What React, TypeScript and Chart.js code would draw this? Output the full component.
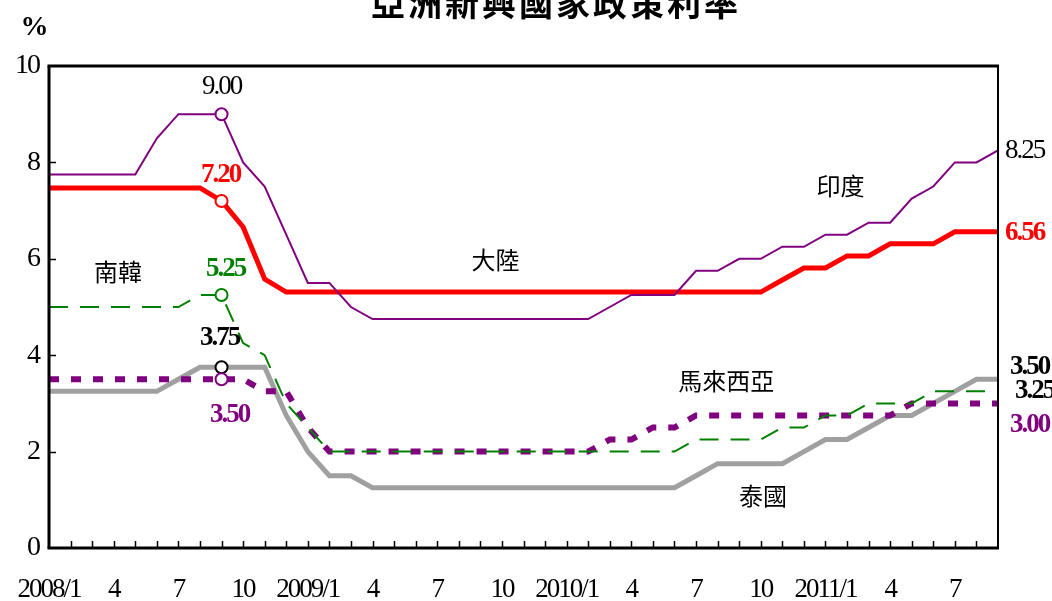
import React, { useEffect, useRef } from 'react';
import { Chart, registerables } from 'chart.js';

Chart.register(...registerables);

// Months 2008/1 .. 2011/9 (tick labels shown every 3 months)
const xTickLabels: string[] = [
  '2008/1', '', '', '4', '', '', '7', '', '', '10', '', '',
  '2009/1', '', '', '4', '', '', '7', '', '', '10', '', '',
  '2010/1', '', '', '4', '', '', '7', '', '', '10', '', '',
  '2011/1', '', '', '4', '', '', '7', '', '',
];

const yTicks: number[] = [0, 2, 4, 6, 8, 10];

// 印度
const india: number[] = [
  7.75, 7.75, 7.75, 7.75, 7.75, 8.5, 9.0, 9.0, 9.0, 8.0, 7.5, 6.5,
  5.5, 5.5, 5.0, 4.75, 4.75, 4.75, 4.75, 4.75, 4.75, 4.75, 4.75, 4.75,
  4.75, 4.75, 5.0, 5.25, 5.25, 5.25, 5.75, 5.75, 6.0, 6.0, 6.25, 6.25,
  6.5, 6.5, 6.75, 6.75, 7.25, 7.5, 8.0, 8.0, 8.25,
];

// 大陸
const china: number[] = [
  7.47, 7.47, 7.47, 7.47, 7.47, 7.47, 7.47, 7.47, 7.2, 6.66, 5.58, 5.31,
  5.31, 5.31, 5.31, 5.31, 5.31, 5.31, 5.31, 5.31, 5.31, 5.31, 5.31, 5.31,
  5.31, 5.31, 5.31, 5.31, 5.31, 5.31, 5.31, 5.31, 5.31, 5.31, 5.56, 5.81,
  5.81, 6.06, 6.06, 6.31, 6.31, 6.31, 6.56, 6.56, 6.56,
];

// 南韓
const korea: number[] = [
  5.0, 5.0, 5.0, 5.0, 5.0, 5.0, 5.0, 5.25, 5.25, 4.25, 4.0, 3.0,
  2.5, 2.0, 2.0, 2.0, 2.0, 2.0, 2.0, 2.0, 2.0, 2.0, 2.0, 2.0,
  2.0, 2.0, 2.0, 2.0, 2.0, 2.0, 2.25, 2.25, 2.25, 2.25, 2.5, 2.5,
  2.75, 2.75, 3.0, 3.0, 3.0, 3.25, 3.25, 3.25, 3.25,
];

// 泰國
const thailand: number[] = [
  3.25, 3.25, 3.25, 3.25, 3.25, 3.25, 3.5, 3.75, 3.75, 3.75, 3.75, 2.75,
  2.0, 1.5, 1.5, 1.25, 1.25, 1.25, 1.25, 1.25, 1.25, 1.25, 1.25, 1.25,
  1.25, 1.25, 1.25, 1.25, 1.25, 1.25, 1.5, 1.75, 1.75, 1.75, 1.75, 2.0,
  2.25, 2.25, 2.5, 2.75, 2.75, 3.0, 3.25, 3.5, 3.5,
];

// 馬來西亞
const malaysia: number[] = [
  3.5, 3.5, 3.5, 3.5, 3.5, 3.5, 3.5, 3.5, 3.5, 3.5, 3.25, 3.25,
  2.5, 2.0, 2.0, 2.0, 2.0, 2.0, 2.0, 2.0, 2.0, 2.0, 2.0, 2.0,
  2.0, 2.0, 2.25, 2.25, 2.5, 2.5, 2.75, 2.75, 2.75, 2.75, 2.75, 2.75,
  2.75, 2.75, 2.75, 2.75, 3.0, 3.0, 3.0, 3.0, 3.0,
];

const MARK_INDEX = 8; // 2008/9
const LAST_INDEX = 44; // 2011/9

const TITLE = '亞洲新興國家政策利率';

const SERIF = '"Liberation Serif", "Times New Roman", serif';
const CJK = '"Noto Sans CJK TC", "Noto Sans CJK SC", sans-serif';

type ValueLabel = { text: string; data: number[]; idx: number; dx: number; dy: number; color: string; bold: boolean; align: CanvasTextAlign };

const valueLabels: ValueLabel[] = [
  { text: '9.00', data: india, idx: MARK_INDEX, dx: 0, dy: -27, color: '#000000', bold: false, align: 'center' },
  { text: '7.20', data: china, idx: MARK_INDEX, dx: -1, dy: -26, color: '#FF0000', bold: true, align: 'center' },
  { text: '5.25', data: korea, idx: MARK_INDEX, dx: 4, dy: -26, color: '#008000', bold: true, align: 'center' },
  { text: '3.75', data: thailand, idx: MARK_INDEX, dx: -2, dy: -29, color: '#000000', bold: true, align: 'center' },
  { text: '3.50', data: malaysia, idx: MARK_INDEX, dx: 8, dy: 36, color: '#800080', bold: true, align: 'center' },
  { text: '8.25', data: india, idx: LAST_INDEX, dx: 7, dy: 1, color: '#000000', bold: false, align: 'left' },
  { text: '6.56', data: china, idx: LAST_INDEX, dx: 7, dy: 1, color: '#FF0000', bold: true, align: 'left' },
  { text: '3.50', data: thailand, idx: LAST_INDEX, dx: 12, dy: -12, color: '#000000', bold: true, align: 'left' },
  { text: '3.25', data: korea, idx: LAST_INDEX, dx: 17, dy: 0, color: '#000000', bold: true, align: 'left' },
  { text: '3.00', data: malaysia, idx: LAST_INDEX, dx: 12, dy: 22, color: '#800080', bold: true, align: 'left' },
];

type NameLabel = { text: string; x: number; y: number };
const nameLabels: NameLabel[] = [
  { text: '南韓', x: 3.2, y: 5.73 },
  { text: '大陸', x: 20.7, y: 5.98 },
  { text: '印度', x: 36.7, y: 7.51 },
  { text: '馬來西亞', x: 31.4, y: 3.46 },
  { text: '泰國', x: 33.1, y: 1.08 },
];

const markRadius = (ctx: any) => (ctx.dataIndex === MARK_INDEX ? 6 : 0);

const decorPlugin = {
  id: 'decor',
  beforeDraw(chart: any) {
    // condensed look for the axis tick labels
    (chart.ctx as any).letterSpacing = '-2px';
  },
  afterDatasetsDraw(chart: any) {
    const { ctx, chartArea, scales } = chart;
    const xs = scales.x;
    const ys = scales.y;
    ctx.save();
    ctx.strokeStyle = '#000000';
    ctx.lineCap = 'butt';
    // inward ticks
    ctx.lineWidth = 1.5;
    ctx.beginPath();
    for (let i = 1; i < xTickLabels.length - 1; i++) {
      const px = Math.round(xs.getPixelForValue(i)) + 0.5;
      ctx.moveTo(px, chartArea.bottom);
      ctx.lineTo(px, chartArea.bottom - 7);
    }
    for (const v of yTicks) {
      if (v === 0 || v === 10) continue;
      const py = Math.round(ys.getPixelForValue(v)) + 0.5;
      ctx.moveTo(chartArea.left, py);
      ctx.lineTo(chartArea.left + 7, py);
    }
    ctx.stroke();
    // frame
    const L = chartArea.left, R = chartArea.right, T = chartArea.top, B = chartArea.bottom;
    const line = (x1: number, y1: number, x2: number, y2: number, w: number) => {
      ctx.lineWidth = w;
      ctx.beginPath();
      ctx.moveTo(x1, y1);
      ctx.lineTo(x2, y2);
      ctx.stroke();
    };
    line(L - 1.5, T, R + 1, T, 3);
    line(L - 1.5, B, R + 1, B, 3);
    line(L, T, L, B, 3);
    line(R, T, R, B, 2);
    ctx.restore();
  },
  afterDraw(chart: any) {
    const { ctx, scales } = chart;
    const xs = scales.x;
    const ys = scales.y;
    ctx.save();
    ctx.textBaseline = 'middle';
    (ctx as any).letterSpacing = '-2px';
    for (const l of valueLabels) {
      const px = xs.getPixelForValue(l.idx) + l.dx;
      const py = ys.getPixelForValue(l.data[l.idx]) + l.dy;
      ctx.font = `${l.bold ? 'bold ' : ''}27px ${SERIF}`;
      ctx.fillStyle = l.color;
      ctx.textAlign = l.align;
      ctx.fillText(l.text, px, py);
    }
    (ctx as any).letterSpacing = '0px';
    ctx.font = `24px ${CJK}`;
    ctx.fillStyle = '#000000';
    ctx.textAlign = 'center';
    for (const n of nameLabels) {
      ctx.fillText(n.text, xs.getPixelForValue(n.x), ys.getPixelForValue(n.y));
    }
    // unit
    ctx.font = `bold 28px ${SERIF}`;
    (ctx as any).letterSpacing = '-1px';
    ctx.fillText('%', 34, 28);
    // title (cut at top as in the original)
    ctx.font = `bold 34px ${CJK}`;
    (ctx as any).letterSpacing = '3px';
    ctx.textBaseline = 'alphabetic';
    ctx.fillText(TITLE, 556, 16);
    ctx.restore();
    (ctx as any).letterSpacing = '0px';
  },
};

export default function App() {
  const canvasRef = useRef<HTMLCanvasElement | null>(null);

  useEffect(() => {
    if (!canvasRef.current) return;
    const chart = new Chart(canvasRef.current, {
      type: 'line',
      data: {
        labels: xTickLabels,
        datasets: [
          {
            label: '印度', data: india, borderColor: '#800080', borderWidth: 2,
            pointRadius: markRadius, pointBackgroundColor: '#FFFFFF', pointBorderColor: '#800080', pointBorderWidth: 2,
          },
          {
            label: '南韓', data: korea, borderColor: '#008000', borderWidth: 2, borderDash: [19, 12],
            pointRadius: markRadius, pointBackgroundColor: '#FFFFFF', pointBorderColor: '#008000', pointBorderWidth: 2,
          },
          {
            label: '大陸', data: china, borderColor: '#FF0000', borderWidth: 5,
            pointRadius: markRadius, pointBackgroundColor: '#FFFFFF', pointBorderColor: '#FF0000', pointBorderWidth: 2,
          },
          {
            label: '馬來西亞', data: malaysia, borderColor: '#800080', borderWidth: 6, borderDash: [10, 12], borderCapStyle: 'butt',
            pointRadius: markRadius, pointBackgroundColor: '#FFFFFF', pointBorderColor: '#800080', pointBorderWidth: 2,
          },
          {
            label: '泰國', data: thailand, borderColor: '#A0A0A0', borderWidth: 5,
            pointRadius: markRadius, pointBackgroundColor: '#FFFFFF', pointBorderColor: '#000000', pointBorderWidth: 2,
          },
        ] as any,
      },
      options: {
        animation: false,
        responsive: false,
        devicePixelRatio: 1,
        events: [],
        layout: { autoPadding: false, padding: { left: 0, right: 54, top: 66, bottom: 0 } },
        elements: { line: { tension: 0, fill: false }, point: { hoverRadius: 0 } },
        plugins: { legend: { display: false }, tooltip: { enabled: false }, title: { display: false } },
        scales: {
          x: {
            type: 'category',
            offset: false,
            grid: { display: false, drawTicks: false },
            border: { display: false },
            ticks: {
              autoSkip: false, maxRotation: 0, minRotation: 0, padding: 26,
              color: '#000000', font: { family: SERIF, size: 27 },
              callback: (_v: any, i: number) => xTickLabels[i],
            },
            afterFit: (s: any) => { s.height = 53; s.paddingLeft = 0; s.paddingRight = 0; },
          },
          y: {
            min: 0, max: 10,
            grid: { display: false, drawTicks: false },
            border: { display: false },
            ticks: {
              stepSize: 2, padding: 10, color: '#000000', font: { family: SERIF, size: 28 },
              callback: (v: any) => String(v),
            },
            afterFit: (s: any) => { s.width = 49; s.paddingTop = 0; s.paddingBottom = 0; },
          },
        },
      } as any,
      plugins: [decorPlugin],
    });
    return () => chart.destroy();
  }, []);

  return (
    <div style={{ position: 'absolute', left: 0, top: 0, width: 1052, height: 601, background: '#FFFFFF' }}>
      <canvas ref={canvasRef} width={1052} height={601} style={{ width: 1052, height: 601, display: 'block' }} />
    </div>
  );
}
